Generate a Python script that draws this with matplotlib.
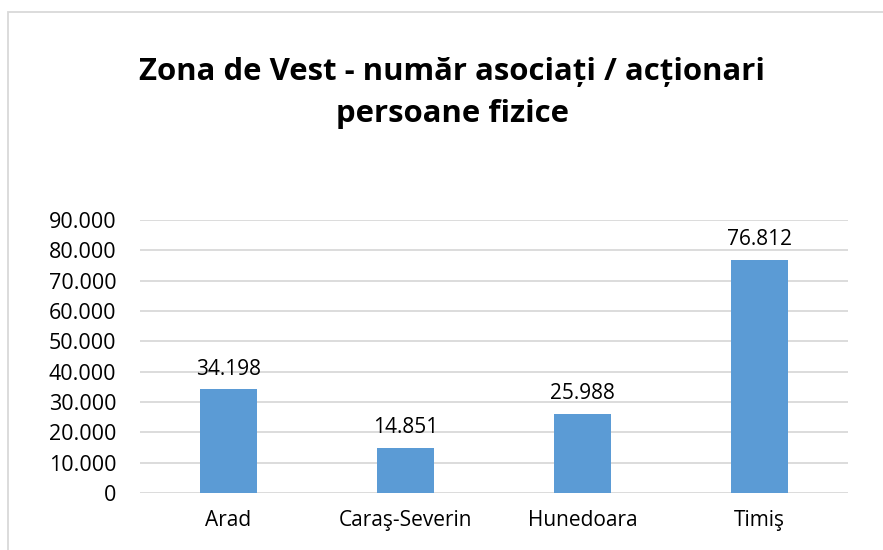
import matplotlib.pyplot as plt
from matplotlib.patches import Rectangle

# judete din Zona de Vest si numarul de asociati / actionari persoane fizice
judete = ["Arad", "Caraş-Severin", "Hunedoara", "Timiş"]
valori = [34198, 14851, 25988, 76812]
yticks = [0, 10000, 20000, 30000, 40000, 50000, 60000, 70000, 80000, 90000]


def fmt(v):
    # separator de mii cu punct
    return "{:,}".format(v).replace(",", ".")


plt.rcParams['font.family'] = ['Open Sans', 'DejaVu Sans']

fig = plt.figure(figsize=(8.83, 5.5), dpi=100)
ax = fig.add_axes([140 / 883, 1 - 493 / 550, (848 - 140) / 883, (493 - 220) / 550])

x = range(len(judete))
bars = ax.bar(x, valori, width=0.32, color="#5B9BD5", zorder=3)
for b, v in zip(bars, valori):
    ax.annotate(fmt(v), (b.get_x() + b.get_width() / 2, v), xytext=(0, 7),
                textcoords="offset points", ha="center", va="bottom",
                fontsize=15, color="#000000")

ax.set_xlim(-0.5, len(judete) - 0.5)
ax.set_ylim(0, 90000)
ax.set_yticks(yticks)
ax.set_yticklabels([fmt(t) for t in yticks], fontsize=15.5)
ax.set_xticks(list(x))
ax.set_xticklabels(judete, fontsize=15)
ax.tick_params(axis="both", length=0, colors="#000000")
ax.tick_params(axis="x", pad=12)
ax.tick_params(axis="y", pad=17)
ax.grid(axis="y", color="#D9D9D9", linewidth=1.3, zorder=0)
for s in ax.spines.values():
    s.set_visible(False)

fig.text(452 / 883, 1 - 93 / 550, "Zona de Vest - număr asociați / acționari\npersoane fizice",
         ha="center", va="center", fontsize=22.4, fontweight="bold", linespacing=1.5)

# chenarul graficului
fig.patches.append(Rectangle((8 / 883, -0.1), 1.1, 1 - 12 / 550 + 0.1, transform=fig.transFigure,
                             fill=False, edgecolor="#D9D9D9", linewidth=1.3))

fig.savefig("out.png", dpi=100)
